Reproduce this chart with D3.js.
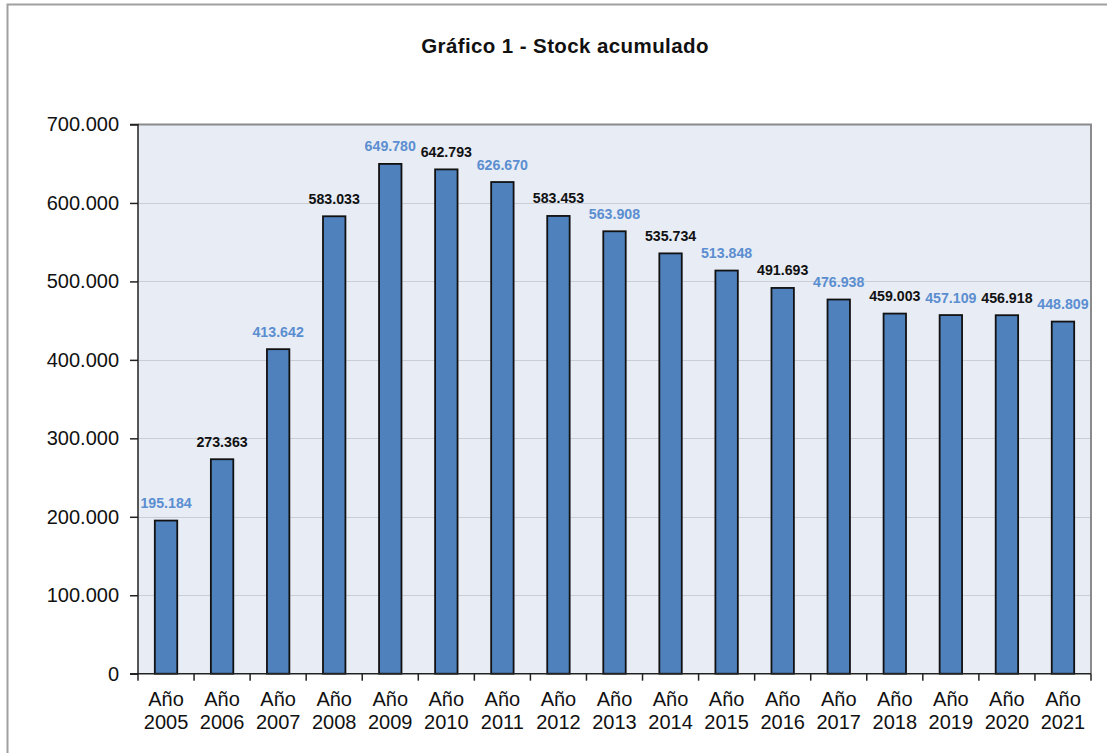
<!DOCTYPE html>
<html><head><meta charset="utf-8">
<script src="https://cdn.jsdelivr.net/npm/d3@7"></script>
<style>body{margin:0;background:#fff}svg{display:block}</style>
</head><body>
<svg id="c" width="1107" height="753"></svg>
<script>
const title = "Gráfico 1 - Stock acumulado";
const years = ["2005","2006","2007","2008","2009","2010","2011","2012","2013","2014","2015","2016","2017","2018","2019","2020","2021"];
const stock = [195184,273363,413642,583033,649780,642793,626670,583453,563908,535734,513848,491693,476938,459003,457109,456918,448809];
const yTicks = [0,100000,200000,300000,400000,500000,600000,700000];
const labelColors = ["#5B8ED0","#111111"];

const svg = d3.select("#c");
const m = {l:138, r:1091, t:124.5, b:673.7};
const loc = d3.formatLocale({decimal:",", thousands:".", grouping:[3], currency:["",""]});
const fmt = loc.format(",d");

// outer frame
svg.append("rect").attr("x",7.5).attr("y",4.5).attr("width",1120).attr("height",800)
  .attr("fill","#fff").attr("stroke","#a0a0a0").attr("stroke-width",2);

// title
svg.append("text").attr("x",565).attr("y",53).attr("text-anchor","middle")
  .attr("font-family","Liberation Sans, Arial, sans-serif").attr("font-weight","bold")
  .attr("font-size",20.5).attr("letter-spacing",0.4).attr("fill","#111").text(title);

const x = d3.scaleBand().domain(years).range([m.l,m.r]).paddingInner(0.6).paddingOuter(0.3);
const y = d3.scaleLinear().domain([0,700000]).range([m.b,m.t]);

// plot bg
svg.append("rect").attr("x",m.l).attr("y",m.t).attr("width",m.r-m.l).attr("height",m.b-m.t)
  .attr("fill","#E7ECF5");

// gridlines
svg.append("g").selectAll("line").data(yTicks.slice(1,-1)).join("line")
  .attr("x1",m.l).attr("x2",m.r).attr("y1",d=>Math.round(y(d))+0.5).attr("y2",d=>Math.round(y(d))+0.5)
  .attr("stroke","#C9CED6").attr("stroke-width",1);

// plot border top/right
svg.append("path").attr("d",`M${m.l},${m.t}H${m.r}V${m.b}`).attr("fill","none")
  .attr("stroke","#8a8a8a").attr("stroke-width",2);

// bars
svg.append("g").selectAll("rect").data(stock).join("rect")
  .attr("x",(d,i)=>x(years[i])).attr("width",x.bandwidth())
  .attr("y",d=>y(d)).attr("height",d=>y(0)-y(d))
  .attr("fill","#4F81BD").attr("stroke","#111").attr("stroke-width",1.8);

// value labels
svg.append("g").selectAll("text").data(stock).join("text")
  .attr("x",(d,i)=>x(years[i])+x.bandwidth()/2).attr("y",d=>y(d)-12.5)
  .attr("text-anchor","middle").attr("font-family","Liberation Sans, Arial, sans-serif")
  .attr("font-weight","bold").attr("font-size",14.2)
  .attr("fill",(d,i)=>labelColors[i%2]).text(d=>fmt(d));

// y axis
const ya = d3.axisLeft(y).tickValues(yTicks).tickSize(8).tickPadding(11).tickFormat(d=>fmt(d));
const gy = svg.append("g").attr("transform",`translate(${m.l},0)`).call(ya);
gy.select(".domain").attr("stroke","#222").attr("stroke-width",1.5).attr("d",`M-8,${m.t}H0V${m.b}H-8`);
gy.selectAll(".tick line").attr("stroke","#222").attr("stroke-width",1.5);
gy.selectAll(".tick text").attr("font-family","Liberation Sans, Arial, sans-serif").attr("font-size",20).attr("fill","#111");

// x axis line and boundary ticks
const gx = svg.append("g");
gx.append("line").attr("x1",m.l-8).attr("x2",m.r).attr("y1",m.b).attr("y2",m.b).attr("stroke","#222").attr("stroke-width",1.5);
const bounds = years.map(d=>x(d)-x.step()*x.paddingInner()/2).concat([m.r]);
gx.selectAll("line.t").data(bounds).join("line").attr("class","t")
  .attr("x1",d=>d).attr("x2",d=>d).attr("y1",m.b).attr("y2",m.b+7)
  .attr("stroke","#222").attr("stroke-width",1.5);
const xl = gx.selectAll("text").data(years).join("text")
  .attr("text-anchor","middle").attr("font-family","Liberation Sans, Arial, sans-serif")
  .attr("font-size",20).attr("fill","#111");
xl.append("tspan").attr("x",d=>x(d)+x.bandwidth()/2).attr("y",705.5).text("Año");
xl.append("tspan").attr("x",d=>x(d)+x.bandwidth()/2).attr("y",729).text(d=>d);
</script>
</body></html>
